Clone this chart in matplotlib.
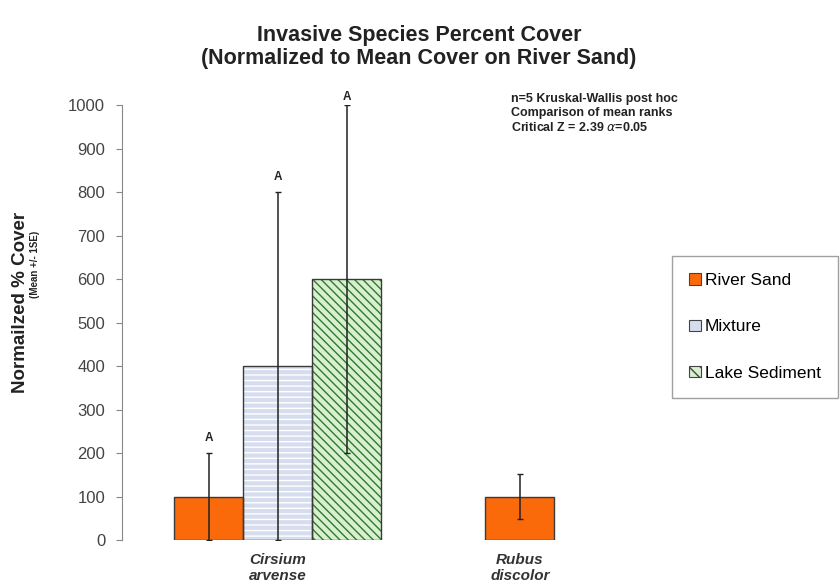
import numpy as np
import matplotlib.pyplot as plt

plt.rcParams['font.family'] = ['Liberation Sans', 'DejaVu Sans']

species = ['Cirsium\narvense', 'Rubus\ndiscolor']
substrates = ['River Sand', 'Mixture', 'Lake Sediment']

# mean cover and 1 SE, normalized to river sand
cirsium_mean = [100, 400, 600]
cirsium_se = [100, 400, 400]
rubus_mean = [100]
rubus_se = [52]
group_letters = ['A', 'A', 'A']

fills = ['#FA6A0A', '#D6DDEE', '#D8EFD0']
hatches = [None, '---', '\\\\\\\\']
hatch_cols = [None, 'white', '#2F7A2F']
edge = '#3A3A3A'

fig = plt.figure(figsize=(8.4, 5.87), dpi=100)
ax = fig.add_axes([0.145, 0.080, 0.615, 0.741])

x = np.arange(len(species))
w = 0.285
offsets = [-w, 0, w]

handles = []
for i, name in enumerate(substrates):
    xi = x[0] + offsets[i]
    if hatches[i]:
        ax.bar(xi, cirsium_mean[i], w, color=fills[i], hatch=hatches[i],
               edgecolor=hatch_cols[i], linewidth=0, zorder=2)
    else:
        ax.bar(xi, cirsium_mean[i], w, color=fills[i], linewidth=0, zorder=2)
    ax.bar(xi, cirsium_mean[i], w, fill=False, edgecolor=edge, linewidth=1, zorder=3)
    ax.errorbar(xi, cirsium_mean[i], yerr=cirsium_se[i], fmt='none',
                ecolor='#222222', elinewidth=1.1, capsize=2, zorder=4)
    top = cirsium_mean[i] + cirsium_se[i]
    ax.text(xi, min(top + 34, 1018), group_letters[i], ha='center', va='center',
            fontsize=8.5, fontweight='bold', color='#222222', clip_on=False)
    handles.append(plt.Rectangle((0, 0), 1, 1, facecolor=fills[i],
                                 hatch='\\\\\\' if hatches[i] == '\\\\\\\\' else None,
                                 edgecolor='#444444', linewidth=0.8))

# Rubus has river sand only
ax.bar(x[1], rubus_mean[0], w, color=fills[0], edgecolor=edge, linewidth=1, zorder=3)
ax.errorbar(x[1], rubus_mean[0], yerr=rubus_se[0], fmt='none',
            ecolor='#222222', elinewidth=1.1, capsize=2, zorder=4)

ax.set_xlim(-0.645, 1.49)
ax.set_ylim(0, 1000)
ax.set_yticks(np.arange(0, 1001, 100))
ax.tick_params(axis='y', labelsize=12, labelcolor='#444444', length=4,
               color='#888888', pad=8)
ax.set_xticks(x)
ax.set_xticklabels(species, fontsize=11, fontweight='bold', style='italic',
                   color='#333333', linespacing=1.2)
ax.tick_params(axis='x', length=0, pad=9)
for s in ['top', 'right', 'bottom']:
    ax.spines[s].set_visible(False)
ax.spines['left'].set_color('#888888')

fig.text(0.024, 0.485, 'Normailzed % Cover', rotation=90, ha='center', va='center',
         fontsize=13.5, fontweight='bold', color='#222222')
fig.text(0.042, 0.55, '(Mean +/- 1SE)', rotation=90, ha='center', va='center',
         fontsize=7, fontweight='bold', color='#222222')

fig.text(0.499, 0.92, 'Invasive Species Percent Cover\n(Normalized to Mean Cover on River Sand)',
         ha='center', va='center', fontsize=15.5, fontweight='bold',
         color='#222222', linespacing=1.15)

fig.text(0.608, 0.807, 'n=5 Kruskal-Wallis post hoc\nComparison of mean ranks\n'
         'Critical Z = 2.39 $\\alpha$=0.05', ha='left', va='center',
         fontsize=9, fontweight='bold', color='#222222', linespacing=1.2)

leg = fig.legend(handles, substrates, loc='center left', bbox_to_anchor=(0.8, 0.443),
                 frameon=True, fancybox=False, fontsize=12.5, handlelength=0.65,
                 handleheight=0.65, handletextpad=0.25, labelspacing=1.8,
                 borderpad=1.0, borderaxespad=0)
leg.get_frame().set_edgecolor('#888888')
leg.get_frame().set_linewidth(1)

fig.savefig('out.png', dpi=100)
